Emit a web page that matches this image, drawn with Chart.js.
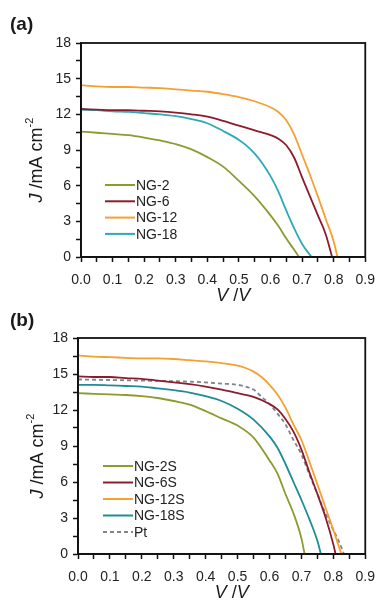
<!DOCTYPE html>
<html>
<head>
<meta charset="utf-8">
<script src="https://cdn.jsdelivr.net/npm/chart.js@4.4.0/dist/chart.umd.min.js"></script>
<style>
html, body { margin: 0; padding: 0; background: #fff; }
body { width: 385px; height: 602px; position: relative; overflow: hidden; }
canvas { position: absolute; left: 0; }
#chartA { top: 0; }
#chartB { top: 300px; }
</style>
</head>
<body>
<canvas id="chartA" width="385" height="306"></canvas>
<canvas id="chartB" width="385" height="302"></canvas>
<script>
// Panel (a): J-V curves, V in volts, J in mA cm-2
let vNG2 = [0, 0.05, 0.1, 0.15, 0.2, 0.25, 0.3, 0.35, 0.4, 0.45, 0.5, 0.55, 0.6, 0.625, 0.65, 0.675, 0.69];
let jNG2 = [10.55, 10.45, 10.35, 10.25, 10.05, 9.8, 9.5, 9.05, 8.4, 7.6, 6.4, 5.1, 3.5, 2.6, 1.55, 0.6, 0];
let vNG6 = [0, 0.05, 0.1, 0.15, 0.2, 0.25, 0.3, 0.35, 0.4, 0.45, 0.5, 0.55, 0.6, 0.625, 0.65, 0.675, 0.7, 0.725, 0.75, 0.775, 0.795];
let jNG6 = [12.45, 12.4, 12.35, 12.35, 12.3, 12.25, 12.15, 12.0, 11.8, 11.45, 11.05, 10.65, 10.25, 9.95, 9.4, 8.35, 6.7, 5.1, 3.5, 1.9, 0];
let vNG12 = [0, 0.05, 0.1, 0.15, 0.2, 0.25, 0.3, 0.35, 0.4, 0.45, 0.5, 0.55, 0.6, 0.625, 0.65, 0.675, 0.7, 0.725, 0.75, 0.775, 0.8, 0.812];
let jNG12 = [14.45, 14.35, 14.3, 14.3, 14.25, 14.2, 14.1, 14.0, 13.9, 13.7, 13.45, 13.1, 12.6, 12.2, 11.5, 10.3, 8.6, 6.9, 5.1, 3.2, 1.3, 0];
let vNG18 = [0, 0.05, 0.1, 0.15, 0.2, 0.25, 0.3, 0.35, 0.4, 0.45, 0.5, 0.525, 0.55, 0.575, 0.6, 0.625, 0.65, 0.675, 0.7, 0.73];
let jNG18 = [12.4, 12.35, 12.25, 12.2, 12.1, 12.0, 11.85, 11.6, 11.25, 10.6, 9.85, 9.35, 8.7, 7.85, 6.8, 5.5, 3.9, 2.4, 1.1, 0];

// Panel (b)
let vNG2S = [0, 0.05, 0.1, 0.15, 0.2, 0.25, 0.3, 0.35, 0.4, 0.45, 0.5, 0.55, 0.6, 0.625, 0.65, 0.675, 0.7, 0.71];
let jNG2S = [13.4, 13.35, 13.3, 13.25, 13.15, 13.0, 12.75, 12.45, 11.9, 11.3, 10.7, 9.7, 7.8, 6.7, 5.0, 3.4, 1.3, 0];
let vNG6S = [0, 0.05, 0.1, 0.15, 0.2, 0.25, 0.3, 0.35, 0.4, 0.45, 0.5, 0.55, 0.6, 0.625, 0.65, 0.675, 0.7, 0.725, 0.75, 0.775, 0.8, 0.807];
let jNG6S = [14.8, 14.75, 14.75, 14.65, 14.6, 14.45, 14.3, 14.15, 13.95, 13.7, 13.4, 13.1, 12.5, 12.05, 11.25, 10.2, 8.7, 6.8, 5.0, 3.1, 0.8, 0];
let vNG12S = [0, 0.05, 0.1, 0.15, 0.2, 0.25, 0.3, 0.35, 0.4, 0.45, 0.5, 0.525, 0.55, 0.575, 0.6, 0.625, 0.65, 0.675, 0.7, 0.725, 0.75, 0.775, 0.8, 0.825];
let jNG12S = [16.55, 16.45, 16.4, 16.35, 16.3, 16.3, 16.25, 16.15, 16.05, 15.9, 15.7, 15.5, 15.2, 14.75, 14.1, 13.3, 12.2, 10.8, 9.5, 7.7, 5.8, 3.9, 2.0, 0];
let vNG18S = [0, 0.05, 0.1, 0.15, 0.2, 0.25, 0.3, 0.35, 0.4, 0.45, 0.5, 0.55, 0.6, 0.625, 0.65, 0.675, 0.7, 0.725, 0.75, 0.761];
let jNG18S = [14.1, 14.1, 14.05, 14.0, 13.95, 13.8, 13.65, 13.45, 13.15, 12.75, 12.1, 11.2, 9.8, 8.85, 7.5, 6.0, 4.5, 2.9, 1.1, 0];
let vPt = [0, 0.1, 0.2, 0.3, 0.4, 0.45, 0.5, 0.525, 0.55, 0.575, 0.6, 0.625, 0.65, 0.675, 0.7, 0.725, 0.75, 0.775, 0.8, 0.82, 0.833];
let jPt = [14.55, 14.5, 14.45, 14.4, 14.3, 14.2, 14.1, 13.95, 13.7, 13.1, 12.5, 11.7, 10.8, 9.5, 8.3, 6.6, 5.0, 3.4, 2.0, 0.9, 0];

const FONT = "'Liberation Sans', Arial, Helvetica, sans-serif";

function pts(v, j) {
    return v.map((x, i) => ({ x: x, y: j[i] }));
}

function line(label, v, j, color, dash) {
    return {
        label: label,
        data: pts(v, j),
        borderColor: color,
        borderWidth: 1.8,
        borderDash: dash || [],
        pointRadius: 0,
        fill: false,
        cubicInterpolationMode: 'monotone'
    };
}

function isMajor(v, step) {
    return Math.abs(v / step - Math.round(v / step)) < 1e-6;
}

// text with mixed fonts (italic symbol, superscript), centred on x,y
function drawRich(ctx, parts, x, y, angle) {
    ctx.save();
    ctx.translate(x, y);
    ctx.rotate(angle);
    let total = 0;
    parts.forEach(p => { ctx.font = p.font; p.w = ctx.measureText(p.text).width; total += p.w; });
    let cx = -total / 2;
    ctx.textAlign = 'left';
    ctx.textBaseline = 'alphabetic';
    parts.forEach(p => { ctx.font = p.font; ctx.fillText(p.text, cx, p.dy || 0); cx += p.w; });
    ctx.restore();
}

const panelDecor = {
    id: 'panelDecor',
    afterDraw(chart, args, opts) {
        const ctx = chart.ctx;
        const a = chart.chartArea;
        ctx.save();
        ctx.strokeStyle = '#111';
        ctx.lineWidth = 1.8;
        ctx.strokeRect(a.left, a.top, a.right - a.left, a.bottom - a.top);

        ctx.fillStyle = '#1a1a1a';
        ctx.font = 'bold 19px ' + FONT;
        ctx.textAlign = 'left';
        ctx.textBaseline = 'alphabetic';
        ctx.fillText(opts.label, 10, opts.labelY);

        drawRich(ctx, [
            { text: 'J', font: 'italic 18px ' + FONT },
            { text: ' /mA cm', font: '18px ' + FONT },
            { text: '-2', font: '11px ' + FONT, dy: -9 }
        ], opts.yTitleX, (a.top + a.bottom) / 2 + 10, -Math.PI / 2);

        drawRich(ctx, [
            { text: 'V', font: 'italic 18px ' + FONT },
            { text: ' /', font: '18px ' + FONT },
            { text: 'V', font: 'italic 18px ' + FONT }
        ], (a.left + a.right) / 2 + 10, opts.xTitleY, 0);

        chart.data.datasets.forEach((ds, i) => {
            const y = opts.legendY + i * opts.legendGap;
            ctx.strokeStyle = ds.borderColor;
            ctx.lineWidth = 2;
            ctx.setLineDash(ds.borderDash || []);
            ctx.beginPath();
            ctx.moveTo(opts.legendX, y);
            ctx.lineTo(opts.legendX + 30, y);
            ctx.stroke();
            ctx.setLineDash([]);
            ctx.fillStyle = '#222';
            ctx.font = '14px ' + FONT;
            ctx.textBaseline = 'middle';
            ctx.fillText(ds.label, opts.legendX + 31, y + 1);
        });
        ctx.restore();
    }
};

function makeScales(yWidth, xHeight) {
    return {
        x: {
            type: 'linear', min: 0, max: 0.9,
            ticks: {
                stepSize: 0.05, autoSkip: false, maxRotation: 0, padding: 10,
                color: '#222', font: { family: FONT, size: 14 },
                callback: v => isMajor(v, 0.1) ? v.toFixed(1) : ''
            },
            grid: { drawOnChartArea: false, drawTicks: true, tickLength: 5, tickColor: '#111', tickWidth: 1.5 },
            border: { display: true, color: '#111', width: 1.8 },
            afterFit: s => { s.height = xHeight; }
        },
        y: {
            type: 'linear', min: 0, max: 18,
            ticks: {
                stepSize: 1.5, autoSkip: false, padding: 5,
                color: '#222', font: { family: FONT, size: 14 },
                callback: v => isMajor(v, 3) ? String(Math.round(v)) : ''
            },
            grid: { drawOnChartArea: false, drawTicks: true, tickLength: 5, tickColor: '#111', tickWidth: 1.5 },
            border: { display: true, color: '#111', width: 1.8 },
            afterFit: s => { s.width = yWidth; }
        }
    };
}

let chartA = new Chart(document.getElementById('chartA'), {
    type: 'line',
    data: {
        datasets: [
            line('NG-2', vNG2, jNG2, 'rgb(140, 155, 48)'),
            line('NG-6', vNG6, jNG6, 'rgb(140, 28, 45)'),
            line('NG-12', vNG12, jNG12, 'rgb(245, 160, 50)'),
            line('NG-18', vNG18, jNG18, 'rgb(45, 170, 180)')
        ]
    },
    options: {
        responsive: false,
        animation: false,
        layout: { padding: { top: 43, right: 11, left: 0, bottom: 0 } },
        scales: makeScales(81, 49),
        plugins: {
            legend: { display: false },
            tooltip: { enabled: false },
            panelDecor: { label: '(a)', labelY: 30, yTitleX: 42, xTitleY: 301, legendX: 105, legendY: 185, legendGap: 16.3 }
        }
    },
    plugins: [panelDecor]
});

let chartB = new Chart(document.getElementById('chartB'), {
    type: 'line',
    data: {
        datasets: [
            line('NG-2S', vNG2S, jNG2S, 'rgb(140, 155, 48)'),
            line('NG-6S', vNG6S, jNG6S, 'rgb(140, 28, 45)'),
            line('NG-12S', vNG12S, jNG12S, 'rgb(245, 160, 50)'),
            line('NG-18S', vNG18S, jNG18S, 'rgb(30, 140, 148)'),
            line('Pt', vPt, jPt, 'rgb(130, 130, 135)', [4, 3])
        ]
    },
    options: {
        responsive: false,
        animation: false,
        layout: { padding: { top: 38, right: 13, left: 0, bottom: 0 } },
        scales: makeScales(78, 48),
        plugins: {
            legend: { display: false },
            tooltip: { enabled: false },
            panelDecor: { label: '(b)', labelY: 26, yTitleX: 43, xTitleY: 298, legendX: 103, legendY: 166, legendGap: 16.5 }
        }
    },
    plugins: [panelDecor]
});
</script>
</body>
</html>
